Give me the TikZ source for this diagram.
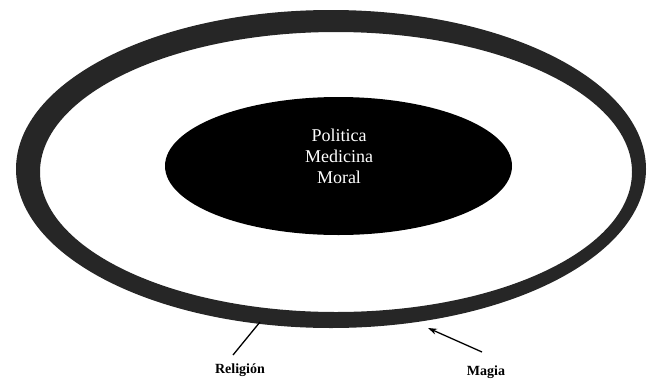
\documentclass[tikz,border=0pt]{standalone}
\usepackage{fontspec}
\setmainfont{Liberation Serif}
\usetikzlibrary{shapes.geometric,arrows.meta}
\tikzset{
  ringband/.style={fill=black!85, even odd rule},
  coreblob/.style={ellipse, fill=black, draw=none, inner sep=0pt},
  coretext/.style={text=white, align=center, font=\fontsize{18}{21}\selectfont},
  lbl/.style={font=\bfseries\fontsize{14}{16}\selectfont, inner sep=1pt},
  pointer/.style={line width=1.3pt, black}
}
\begin{document}
\begin{tikzpicture}[x=1pt,y=-1pt]
\useasboundingbox (0,0) rectangle (648,378);
\fill[ringband] (331,169) ellipse [x radius=315pt, y radius=159pt]
                (336,172) ellipse [x radius=296pt, y radius=140pt];
\node[coreblob, minimum width=347pt, minimum height=138pt] (core) at (338.5,166) {};
\node[coretext] (txt) at (339,156) {Politica\\Medicina\\Moral};
\node[lbl] (rel) at (240,370) {Religión};
\node[lbl] (mag) at (486,372) {Magia};
\coordinate (relend) at (260,322);
\coordinate (reltail) at (233,355);
\coordinate (magtail) at (482,352);
\coordinate (maghead) at (428,328);
\draw[pointer] (reltail) -- (relend);
\draw[pointer, -{Stealth[length=9pt,width=6pt]}] (magtail) -- (maghead);
\end{tikzpicture}
\end{document}
